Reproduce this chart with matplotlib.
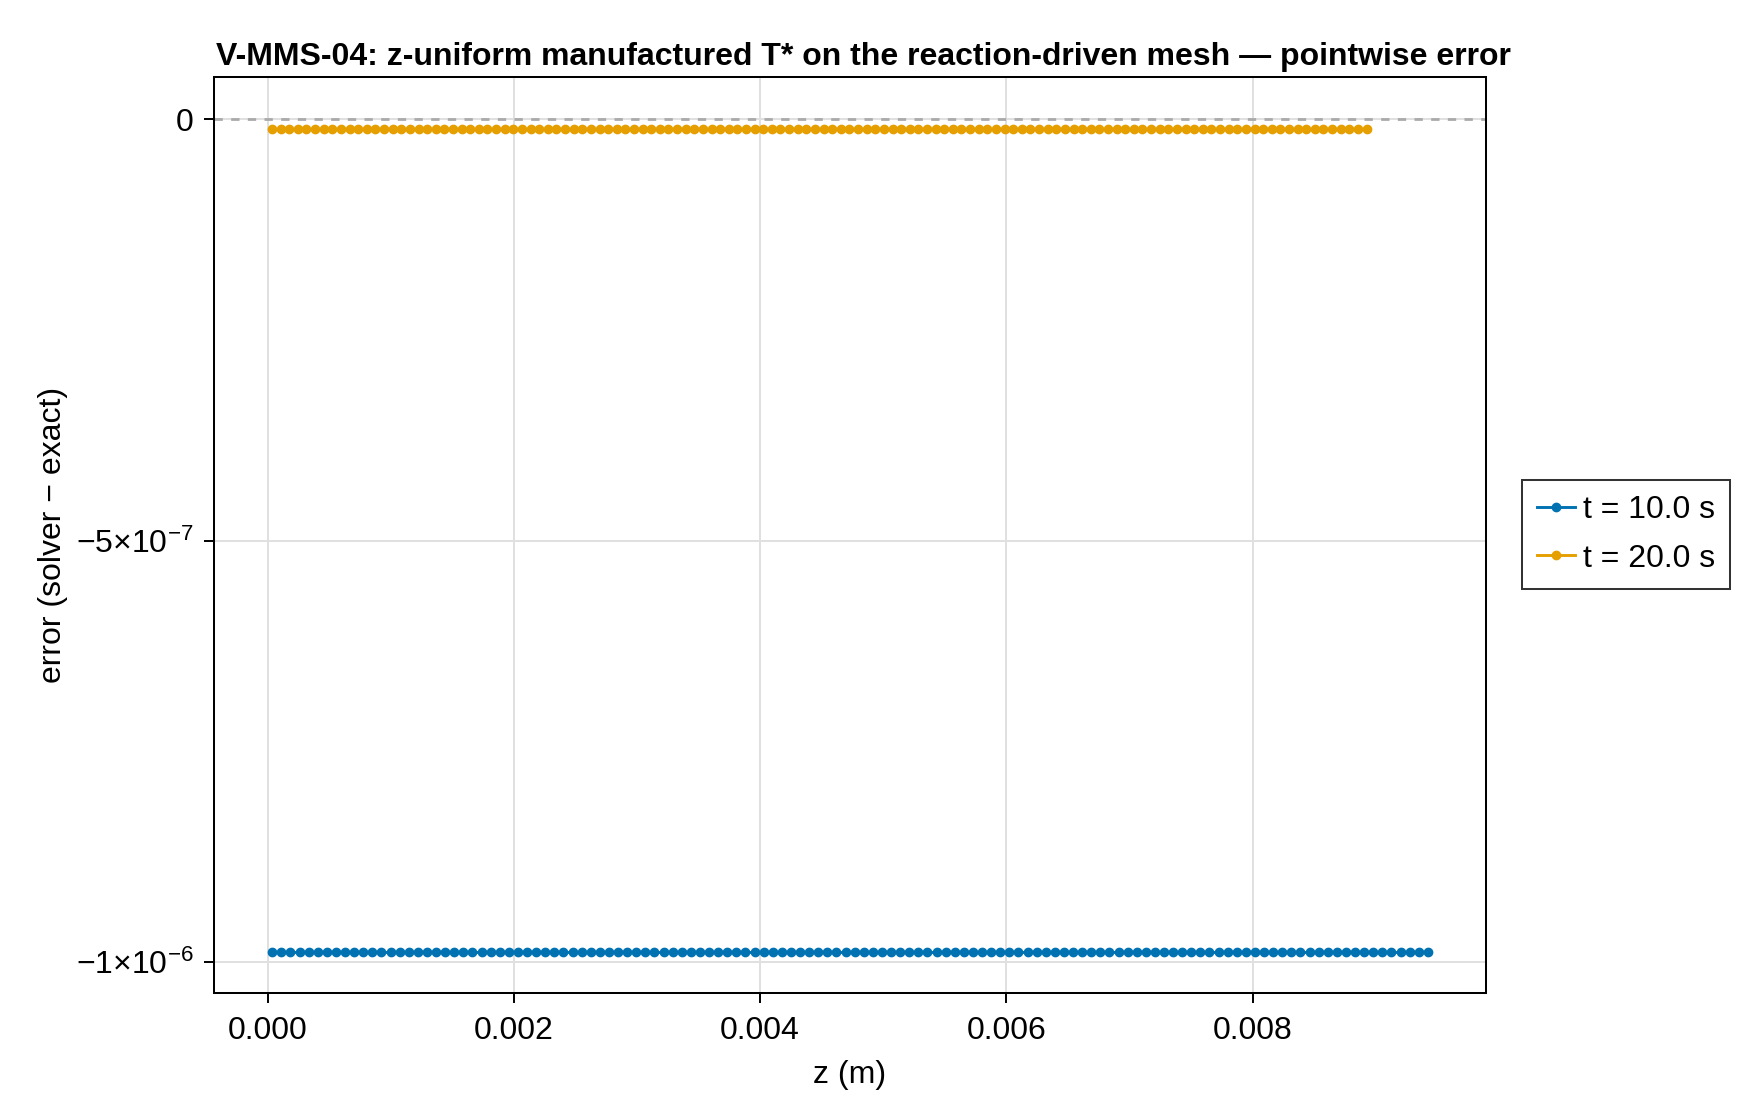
import numpy as np
import matplotlib
matplotlib.use("Agg")
from matplotlib import pyplot as plt
from matplotlib.ticker import FixedLocator

plt.rcParams['font.family'] = ['Liberation Sans', 'DejaVu Sans']
plt.rcParams['mathtext.fontset'] = 'custom'
plt.rcParams['mathtext.rm'] = 'Liberation Sans'
plt.rcParams['mathtext.it'] = 'Liberation Sans:italic'

# mesh: cell centres of a uniform mesh
n_cells = 128
length_10s = 0.00946   # domain length at t = 10 s (m)
length_20s = 0.00896   # domain length at t = 20 s (m)

# pointwise error, constant along z
err_10s = -9.88e-7
err_20s = -1.12e-8

labels = ["t = 10.0 s", "t = 20.0 s"]
colors = ["#0072B2", "#E69F00"]

xticks = [0.000, 0.002, 0.004, 0.006, 0.008]
xticklabels = ["0.000", "0.002", "0.004", "0.006", "0.008"]
yticks = [-1e-6, -5e-7, 0.0]
yticklabels = [r"$-1{\times}10^{-6}$", r"$-5{\times}10^{-7}$", "0"]

def centres(L, n):
    dz = L / n
    return (np.arange(n) + 0.5) * dz

z10 = centres(length_10s, n_cells)
z20 = centres(length_20s, n_cells)

FS = 23

fig = plt.figure(figsize=(17.6, 11.2), dpi=100)
ax = fig.add_axes([214/1760, 1 - 993/1120, (1486-214)/1760, (993-77)/1120])

ax.axhline(0.0, color="#aaaaaa", lw=2.0, ls=(0, (3, 3)), zorder=2)

ax.plot(z10, np.full(n_cells, err_10s), color=colors[0], marker="o", ms=6.0,
        lw=2.1, label=labels[0], zorder=3)
ax.plot(z20, np.full(n_cells, err_20s), color=colors[1], marker="o", ms=6.0,
        lw=2.1, label=labels[1], zorder=3)

ax.set_xlim(-0.000436, 0.009895)
ax.set_ylim(-1.0364e-6, 5.02e-8)

ax.xaxis.set_major_locator(FixedLocator(xticks))
ax.set_xticklabels(xticklabels)
ax.yaxis.set_major_locator(FixedLocator(yticks))
ax.set_yticklabels(yticklabels)

ax.grid(True, color="#e0e0e0", lw=1.4)
ax.set_axisbelow(True)
ax.tick_params(direction="out", length=7.5, width=1.4, labelsize=FS)
ax.tick_params(axis="x", pad=9)
ax.tick_params(axis="y", pad=7)
for s in ax.spines.values():
    s.set_linewidth(1.45)

ax.set_xlabel("z (m)", fontsize=FS, labelpad=10)
ax.set_ylabel("error (solver − exact)", fontsize=FS, labelpad=6)
ax.set_title("V-MMS-04: z-uniform manufactured T* on the reaction-driven mesh — pointwise error",
             fontsize=FS, fontweight="bold", pad=9, x=0.5106)

leg = fig.legend(loc="center left", bbox_to_anchor=(1522/1760, 1 - 534.5/1120),
                 fontsize=FS, frameon=True, fancybox=False, edgecolor="black",
                 handlelength=1.2, handletextpad=0.25, borderpad=0.47,
                 labelspacing=0.57, borderaxespad=0)
leg.get_frame().set_linewidth(1.45)

fig.savefig("out.png", dpi=100)
